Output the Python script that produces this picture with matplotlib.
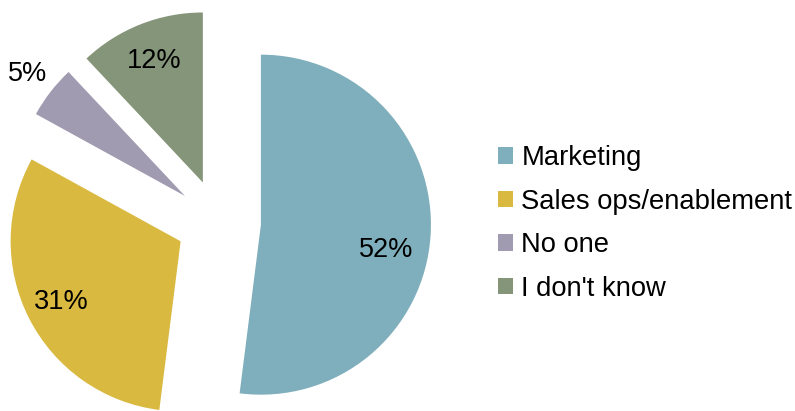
import numpy as np
import matplotlib
matplotlib.use("Agg")
import matplotlib.pyplot as plt

plt.rcParams['font.family'] = ['Liberation Sans', 'DejaVu Sans']

categories = ["Marketing", "Sales ops/enablement", "No one", "I don't know"]
shares = [52, 31, 5, 12]
colors = ["#7FAFBC", "#D9B940", "#A09BB0", "#859579"]

W, H = 795, 411
fig = plt.figure(figsize=(W / 100, H / 100), dpi=100)
ax = fig.add_axes([0, 0, 1, 1])

center = (218.5, 189)
radius = 170
# every slice pulled out by a quarter of the radius
explode = [0.25 * radius] * len(shares)

wedges, _ = ax.pie(shares, colors=colors, startangle=90, counterclock=False,
                   explode=explode, radius=radius, center=center,
                   wedgeprops=dict(linewidth=0))

# percentage labels: distance along each wedge bisector (fraction of radius)
label_dist = [0.75, 0.79, 1.17, 0.77]
label_rot = [-8, 0, 0, 0]
for w, val, d, rot in zip(wedges, shares, label_dist, label_rot):
    ang = np.deg2rad((w.theta1 + w.theta2) / 2 + rot)
    cx, cy = w.center
    ax.text(cx + d * radius * np.cos(ang), cy + d * radius * np.sin(ang),
            f"{val}%", ha="center", va="center", fontsize=19.5, color="black")

ax.set_xlim(0, W)
ax.set_ylim(0, H)
ax.set_aspect("equal")
ax.axis("off")

leg = ax.legend(wedges, categories, loc="upper left",
                bbox_to_anchor=(498 / W, 1 - 145 / H), frameon=False,
                fontsize=19.7, handlelength=0.55, handleheight=0.55,
                handletextpad=0.3, labelspacing=0.64, borderpad=0,
                borderaxespad=0)

fig.savefig("out.png", dpi=100)
